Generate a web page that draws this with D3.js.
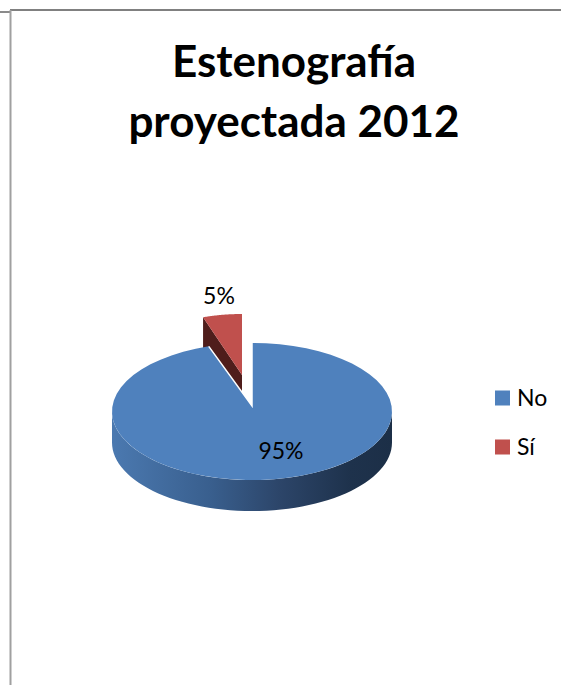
<!DOCTYPE html>
<html lang="es">

<head>
  <meta charset="UTF-8" />
  <title>Estenografía proyectada 2012</title>
  <style>
    body {
      margin: 0;
      background: #fff;
    }

    text {
      font-family: Lato, "Open Sans", sans-serif;
      fill: #000;
    }
  </style>
</head>

<body>
  <div id="container"></div>
  <script src="https://cdn.jsdelivr.net/npm/d3@7"></script>
  <script>
    const categories = ["No", "Sí"];
    const values = [95, 5];
    const colors = ["#4f81bd", "#c0504d"];
    const titleLines = ["Estenografía", "proyectada 2012"];

    const width = 561, height = 685;
    const depth = 31;
    // each slice: centre of ellipse, apex of the wedge is a bit above it
    const centers = [
      { x: 252, y: 411.5, apex: 406, rx: 140, ry: 68.5 },
      { x: 242, y: 380.5, apex: 375, rx: 126, ry: 66.5 }
    ];

    const svg = d3.select("#container").append("svg")
      .attr("width", width).attr("height", height)
      .style("display", "block");

    // frame of the page behind the chart
    svg.append("path").attr("d", "M0 12H10").attr("stroke", "#8a8a8a").attr("stroke-width", 2);
    svg.append("path").attr("d", "M10 10H561").attr("stroke", "#808080").attr("stroke-width", 2);
    svg.append("path").attr("d", "M10.5 10V685").attr("stroke", "#a0a0a0").attr("stroke-width", 2);

    const defs = svg.append("defs");
    const sideGrad = defs.append("linearGradient").attr("id", "side");
    [["0%", "#4b79b0"], ["35%", "#395f8e"], ["60%", "#2c4569"], ["85%", "#1e324c"], ["100%", "#1c2f47"]]
      .forEach(s => sideGrad.append("stop").attr("offset", s[0]).attr("stop-color", s[1]));

    const arcs = d3.pie().sort(null).startAngle(0).endAngle(2 * Math.PI)(values);

    const px = (c, a) => c.x + c.rx * Math.sin(a);
    const py = (c, a) => c.y - c.ry * Math.cos(a);

    function rim(c, a0, a1) {
      return d3.range(0, 61).map(i => {
        const a = a0 + (a1 - a0) * i / 60;
        return [px(c, a), py(c, a)];
      });
    }
    const line = d3.line();

    function drawSlice(i) {
      const d = arcs[i], c = centers[i];
      const apex = [c.x, c.apex];
      const first = rim(c, d.startAngle, d.startAngle)[0];
      const last = rim(c, d.endAngle, d.endAngle)[0];

      if (i === 1) {
        // cut face on the left of the small wedge
        const face = [first, [first[0], first[1] + depth], [apex[0], apex[1] + depth], apex];
        svg.append("path").attr("d", line(face) + "Z").attr("fill", "#4f1d1b");
      } else {
        // outer wall, only the front half can be seen
        const top = rim(c, Math.PI / 2, 3 * Math.PI / 2);
        const bottom = top.map(p => [p[0], p[1] + depth]).reverse();
        svg.append("path").attr("d", line(top.concat(bottom)) + "Z").attr("fill", "url(#side)");
      }

      const face = [apex].concat(rim(c, d.startAngle, d.endAngle));
      svg.append("path").attr("d", line(face) + "Z").attr("fill", colors[i]);

      if (i === 0) {
        // thin white edge on the cut only, the rim has none
        svg.append("path").attr("d", line([last, apex, first]))
          .attr("fill", "none").attr("stroke", "#fff").attr("stroke-width", 1.5);
      }
    }

    // the small slice sits behind the big one
    drawSlice(1);
    drawSlice(0);

    svg.append("text").attr("text-anchor", "middle").attr("font-size", 44).attr("font-weight", 700)
      .selectAll("tspan").data(titleLines).enter().append("tspan")
      .attr("x", 294).attr("y", (_, i) => 77 + i * 60)
      .text(d => d);

    const labelPos = [[281, 459], [219, 304]];
    svg.selectAll(".label").data(values).enter().append("text")
      .attr("class", "label")
      .attr("text-anchor", "middle").attr("font-size", 23)
      .attr("x", (_, i) => labelPos[i][0]).attr("y", (_, i) => labelPos[i][1])
      .text(d => d + "%");

    const legendY = d3.scalePoint().domain(categories).range([398, 447]);
    const legend = svg.selectAll(".legend").data(categories).enter().append("g")
      .attr("class", "legend")
      .attr("transform", d => `translate(495, ${legendY(d)})`);
    legend.append("rect").attr("y", -7.5).attr("width", 15).attr("height", 15)
      .attr("fill", (_, i) => colors[i]);
    legend.append("text").attr("x", 22).attr("y", 8).attr("font-size", 23).text(d => d);
  </script>
</body>

</html>
